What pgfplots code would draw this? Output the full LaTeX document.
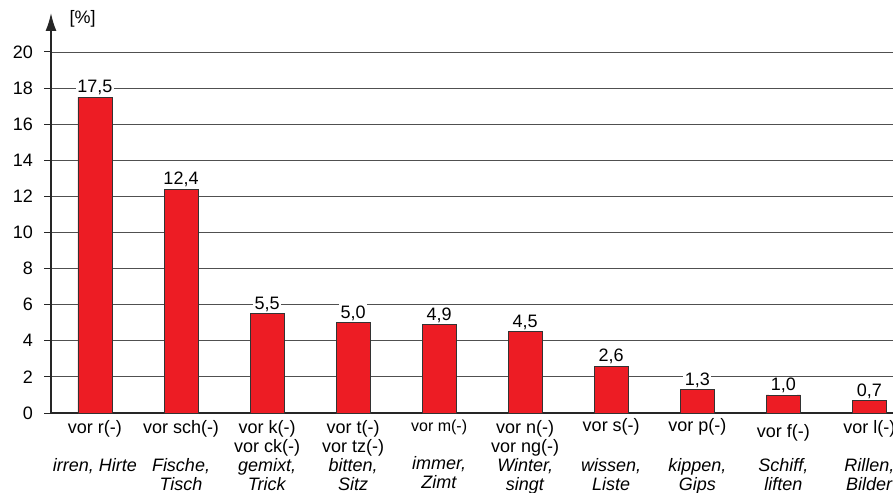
\documentclass[border=0pt]{standalone}
\usepackage{pgfplots}
\pgfplotsset{compat=1.18}
\usepackage{fontspec}
\setmainfont{Liberation Sans}
\usetikzlibrary{arrows.meta,calc}
\definecolor{barred}{HTML}{ED1C24}
\definecolor{gridgray}{HTML}{505050}

\begin{document}
\begin{tikzpicture}
\begin{axis}[
  scale only axis, width=870pt, height=361pt,
  xmin=-0.511, xmax=9.6, ymin=0, ymax=20,
  clip=false,
  /pgf/number format/assume math mode=true,
  axis x line=bottom, axis y line=left,
  x axis line style={-, line width=1.6pt, color=black!85},
  y axis line style={-{Latex[length=18pt,width=11pt]}, line width=1.6pt, color=black!85, shorten >=-39pt},
  ytick={0,2,...,20},
  ymajorgrids, grid style={gridgray, line width=0.9pt},
  tick align=outside, major tick length=7pt,
  ytick style={black!85, line width=1pt},
  yticklabel style={font=\fontsize{18}{18}\selectfont, inner sep=0pt, xshift=-11pt},
  xtick={0,...,9}, xtick style={draw=none},
  xticklabel style={anchor=north, align=center, inner sep=0pt, yshift=0pt, font=\fontsize{18}{19}\selectfont},
  xticklabels={
    {vor r(-)\\\mbox{}\\\textit{irren, Hirte}\\\mbox{}},
    {vor sch(-)\\\mbox{}\\\textit{Fische,}\\\textit{Tisch}},
    {vor k(-)\\vor ck(-)\\\textit{gemixt,}\\\textit{Trick}},
    {vor t(-)\\vor tz(-)\\\textit{bitten,}\\\textit{Sitz}},
    {{\fontsize{16}{19}\selectfont vor m(-)}\\\mbox{}\\\textit{immer,}\\\textit{Zimt}},
    {vor n(-)\\vor ng(-)\\\textit{Winter,}\\\textit{singt}},
    {\vphantom{(}\raisebox{2pt}[0pt][0pt]{vor s(-)}\\\mbox{}\\\textit{wissen,}\\\textit{Liste}},
    {\vphantom{(}\raisebox{2pt}[0pt][0pt]{vor p(-)}\\\mbox{}\\\textit{kippen,}\\\textit{Gips}},
    {\vphantom{(}\raisebox{-4pt}[0pt][0pt]{vor f(-)}\\\mbox{}\\\textit{Schiff,}\\\textit{liften}},
    {vor l(-)\\\mbox{}\\\textit{Rillen,}\\\textit{Bilder}}
  },
  ybar, bar width=34pt,
  nodes near coords={\pgfmathprintnumber[fixed,fixed zerofill,precision=1,use comma]{\pgfplotspointmeta}},
  nodes near coords style={font=\fontsize{18}{18}\selectfont, fill=white, inner sep=1.5pt},
]
\addplot[fill=barred, draw=black!80, line width=0.8pt] coordinates {
  (0,17.5) (1,12.4) (2,5.5) (3,5.0) (4,4.9) (5,4.5) (6,2.6) (7,1.3) (8,1.0) (9,0.7)
};
\coordinate (sw) at (rel axis cs:0,0);
\coordinate (ne) at (rel axis cs:1,1);
\node[anchor=west, font=\fontsize{18}{18}\selectfont] at ([xshift=15pt,yshift=33pt]rel axis cs:0,1) {[\%]};
\end{axis}
\pgfresetboundingbox
\path let \p1=(sw), \p2=(ne) in (\x1-51pt,\y1-79pt) rectangle (\x1+842pt,\y2+52pt);
\end{tikzpicture}
\end{document}
